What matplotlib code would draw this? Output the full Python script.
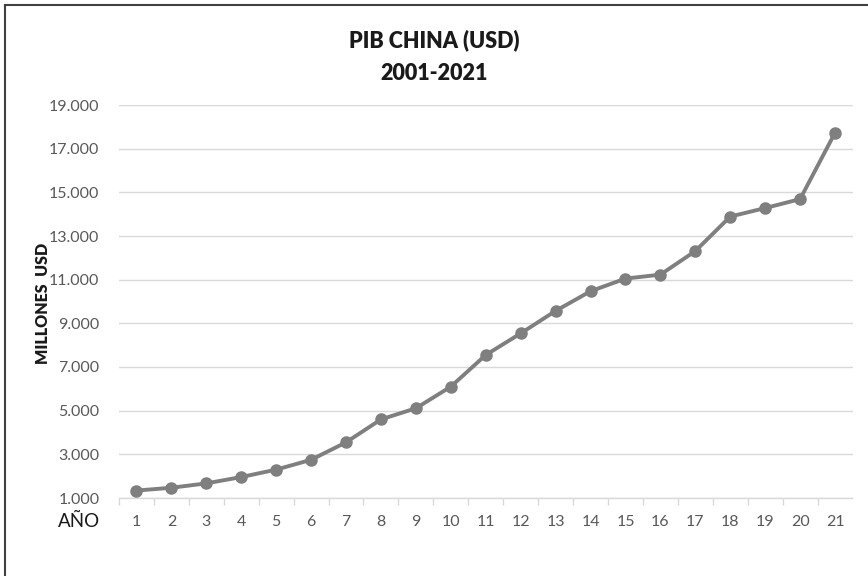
import matplotlib
matplotlib.use("Agg")
import matplotlib.pyplot as plt
from matplotlib.lines import Line2D

plt.rcParams['font.family'] = ['Lato', 'DejaVu Sans']

# GDP of China 2001-2021, millions of USD (thousands separator as dot)
anios = list(range(1, 22))
pib = [1340, 1470, 1670, 1960, 2300, 2750, 3550, 4600, 5110, 6100,
       7550, 8540, 9570, 10470, 11050, 11230, 12310, 13890, 14280, 14690, 17730]
y_ticks = [1000, 3000, 5000, 7000, 9000, 11000, 13000, 15000, 17000, 19000]
y_tick_labels = ["1.000", "3.000", "5.000", "7.000", "9.000",
                 "11.000", "13.000", "15.000", "17.000", "19.000"]

W, H = 868, 576
fig = plt.figure(figsize=(W / 100, H / 100), dpi=100)
fig.patch.set_facecolor("white")

left, right, top, bottom = 119, 852.5, 105, 498
ax = fig.add_axes([left / W, 1 - bottom / H, (right - left) / W, (bottom - top) / H])

ax.plot(anios, pib, color="#7f7f7f", linewidth=2.8, marker="o",
        markersize=8, markerfacecolor="#7f7f7f", markeredgecolor="#7f7f7f",
        solid_capstyle="round", zorder=3)

ax.set_xlim(0.5, 21.5)
ax.set_ylim(1000, 19000)
ax.set_yticks(y_ticks)
ax.set_yticklabels(y_tick_labels)
ax.grid(axis="y", color="#d9d9d9", linewidth=1.0)
ax.set_axisbelow(True)

# category labels centered, tick marks at category boundaries
ax.set_xticks(anios)
ax.set_xticklabels([str(a) for a in anios])
ax.set_xticks([a + 0.5 for a in range(0, 21)], minor=True)
ax.tick_params(axis="x", which="major", length=0, pad=12, labelsize=11.5,
               labelcolor="#595959")
ax.tick_params(axis="x", which="minor", length=5, color="#d9d9d9", width=1)
ax.tick_params(axis="y", length=0, pad=14, labelsize=11.5, labelcolor="#595959")

for s in ["top", "right", "left"]:
    ax.spines[s].set_visible(False)
ax.spines["bottom"].set_color("#d9d9d9")
ax.spines["bottom"].set_linewidth(1.0)

fig.text(434 / W, 1 - 40 / H, "PIB CHINA (USD)", ha="center", va="center",
         fontsize=15.5, fontweight="heavy", color="#1a1a1a")
fig.text(434 / W, 1 - 73 / H, "2001-2021", ha="center", va="center",
         fontsize=15.5, fontweight="heavy", color="#1a1a1a")
fig.text(43 / W, 1 - 303 / H, "MILLONES  USD", rotation=90, ha="center",
         va="center", fontsize=11.5, fontweight="heavy", color="#1a1a1a")
fig.text(79 / W, 1 - 521 / H, "AÑO", ha="center", va="center",
         fontsize=13.5, color="#1a1a1a")

# outer frame (left and top edges)
fig.add_artist(Line2D([5 / W, 5 / W], [0, 1 - 5 / H], transform=fig.transFigure,
                      color="#404040", linewidth=1.5))
fig.add_artist(Line2D([5 / W, 1], [1 - 5 / H, 1 - 5 / H], transform=fig.transFigure,
                      color="#404040", linewidth=1.5))

fig.savefig("out.png", dpi=100, facecolor="white")
